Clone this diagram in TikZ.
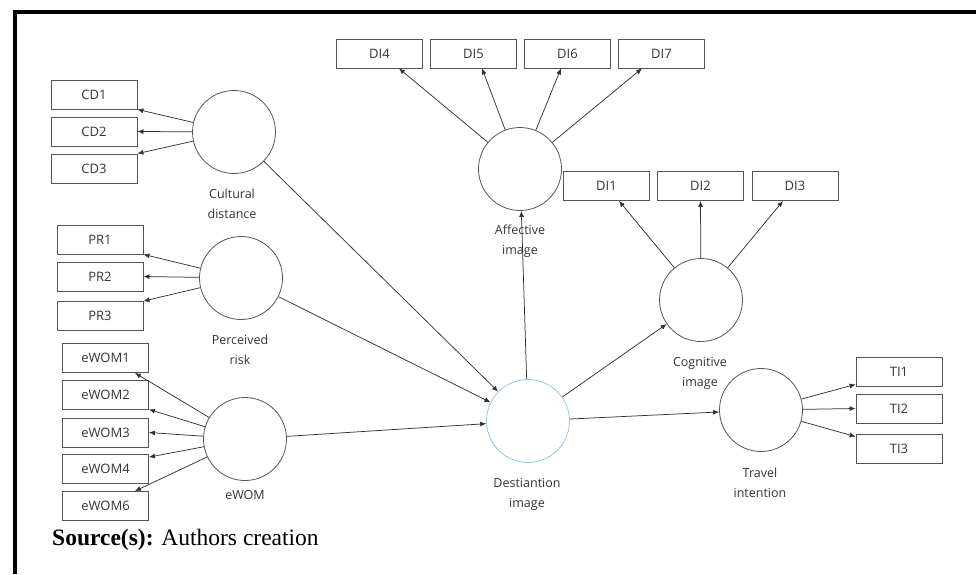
\documentclass[tikz,border=0pt]{standalone}
\usepackage{fontspec}
\setmainfont{Liberation Serif}
\newfontfamily\lblfont{Open Sans}
\usetikzlibrary{arrows.meta,calc}
\definecolor{boxgray}{HTML}{555555}
\definecolor{txtgray}{HTML}{333333}
\definecolor{linegray}{HTML}{333333}
\definecolor{destblue}{HTML}{9DC3E6}
\begin{document}
\begin{tikzpicture}[x=1pt,y=-1pt,
  ind/.style={draw=boxgray, line width=0.8pt, minimum width=86pt, minimum height=29pt, inner sep=0pt,
    font=\lblfont\fontsize{13}{15}\selectfont, text=txtgray},
  lat/.style={draw=boxgray, circle, line width=0.8pt, minimum size=83pt, inner sep=0pt},
  lab/.style={align=center, font=\lblfont\fontsize{12.5}{20}\selectfont, text=txtgray, inner sep=0pt},
  arr/.style={draw=linegray, line width=0.75pt, -{Latex[length=6pt,width=5pt]}}
]
\useasboundingbox (0,0) rectangle (976,574);
% frame
\draw[line width=4pt] (14.5,574) -- (14.5,12) -- (976,12);

% indicator boxes
\node[ind] (cd1) at (94,94.5) {CD1};
\node[ind] (cd2) at (94,131.5) {CD2};
\node[ind] (cd3) at (94,168.5) {CD3};
\node[ind] (pr1) at (100,239.5) {PR1};
\node[ind] (pr2) at (100,276.5) {PR2};
\node[ind] (pr3) at (100,316) {PR3};
\node[ind] (ew1) at (105.5,358) {eWOM1};
\node[ind] (ew2) at (105.5,394.5) {eWOM2};
\node[ind] (ew3) at (105.5,432.5) {eWOM3};
\node[ind] (ew4) at (105.5,469) {eWOM4};
\node[ind] (ew6) at (105.5,506) {eWOM6};
\node[ind] (di4) at (379.5,53.5) {DI4};
\node[ind] (di5) at (473.5,53.5) {DI5};
\node[ind] (di6) at (567.5,53.5) {DI6};
\node[ind] (di7) at (661.5,53.5) {DI7};
\node[ind] (di1) at (606.5,186) {DI1};
\node[ind] (di2) at (700.5,186) {DI2};
\node[ind] (di3) at (795,186) {DI3};
\node[ind] (ti1) at (899,371.5) {TI1};
\node[ind] (ti2) at (899,408.5) {TI2};
\node[ind] (ti3) at (899,448.5) {TI3};

% latent circles
\node[lat] (cd) at (234,132) {};
\node[lat] (pr) at (241,278) {};
\node[lat] (ew) at (245,439) {};
\node[lat] (aff) at (520,169) {};
\node[lat] (cog) at (701,300) {};
\node[lat, draw=destblue] (dest) at (528,421) {};
\node[lat] (ti) at (761,410) {};

% labels
\node[lab] (cdl) at (232,204) {Cultural\\distance};
\node[lab] (prl) at (240,350) {Perceived\\risk};
\node[lab] (ewl) at (245,495) {eWOM};
\node[lab] (affl) at (520,241) {Affective\\image};
\node[lab] (cogl) at (700,373) {Cognitive\\image};
\node[lab] (destl) at (527,494) {Destiantion\\image};
\node[lab] (til) at (760,483) {Travel\\intention};

% measurement arrows
\draw[arr] (cd) -- (cd1.south east);
\draw[arr] (cd) -- (cd2.east);
\draw[arr] (cd) -- (cd3.north east);
\draw[arr] (pr) -- (pr1.south east);
\draw[arr] (pr) -- (pr2.east);
\draw[arr] (pr) -- (pr3.north east);
\draw[arr] (ew) -- ([xshift=-14pt]ew1.south east);
\draw[arr] (ew) -- (ew2.south east);
\draw[arr] (ew) -- (ew3.east);
\draw[arr] (ew) -- ([yshift=-3pt]ew4.north east);
\draw[arr] (ew) -- ([xshift=-14pt]ew6.north east);
\draw[arr] (aff) -- ([xshift=-24pt]di4.south east);
\draw[arr] (aff) -- ([xshift=8.5pt]di5.south);
\draw[arr] (aff) -- ([xshift=-6.5pt]di6.south);
\draw[arr] (aff) -- ([xshift=-19.5pt]di7.south);
\draw[arr] (cog) -- ([xshift=12.5pt]di1.south);
\draw[arr] (cog) -- (di2.south);
\draw[arr] (cog) -- ([xshift=-12pt]di3.south);
\draw[arr] (ti) -- ([yshift=2pt]ti1.south west);
\draw[arr] (ti) -- (ti2.west);
\draw[arr] (ti) -- ([yshift=-3pt]ti3.north west);

% structural arrows
\draw[arr] (cd) -- (dest);
\draw[arr] (pr) -- (dest);
\draw[arr] (ew) -- (dest);
\draw[arr] (dest) -- (aff);
\draw[arr] (dest) -- (cog);
\draw[arr] (dest) -- (ti);

% source
\node[anchor=base west, inner sep=0pt, font=\fontsize{23.5}{27}\selectfont] (src) at (52,545) {\textbf{Source(s):} Authors creation};
\end{tikzpicture}
\end{document}
